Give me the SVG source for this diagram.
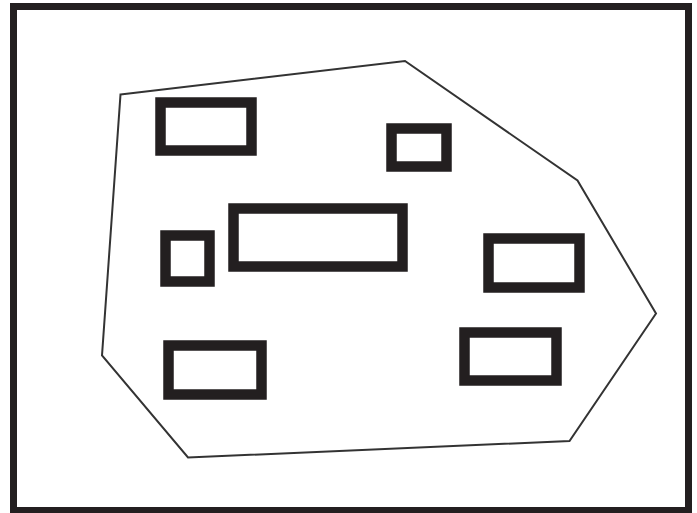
<svg xmlns="http://www.w3.org/2000/svg" width="697" height="513" viewBox="0 0 697 513">
<style>
.frame{fill:none;stroke:#231f20;stroke-width:7}
.area{fill:none;stroke:#333;stroke-width:2;stroke-linejoin:miter}
.box{fill:#fff;stroke:#231f20;stroke-width:10.5}
</style>
<rect width="697" height="513" fill="#fff"/>
<rect class="frame" x="13.5" y="6.5" width="675" height="504"/>
<g id="boundary"><polygon class="area" points="120.5,94.5 405,61 577.5,180.5 656,313.5 569.5,441 188,457.5 102,355.5"/></g>
<g id="box1"><rect class="box" x="160.5" y="102.5" width="91" height="48"/></g>
<g id="box2"><rect class="box" x="391.5" y="128.5" width="55" height="38"/></g>
<g id="box3"><rect class="box" x="233.5" y="208.5" width="169" height="58"/></g>
<g id="box4"><rect class="box" x="165.5" y="235.5" width="44" height="46"/></g>
<g id="box5"><rect class="box" x="488.5" y="238.5" width="91" height="49"/></g>
<g id="box6"><rect class="box" x="168.5" y="345.5" width="93" height="49"/></g>
<g id="box7"><rect class="box" x="464.5" y="332.5" width="92" height="48"/></g>
<g id="connectors"/>
</svg>
